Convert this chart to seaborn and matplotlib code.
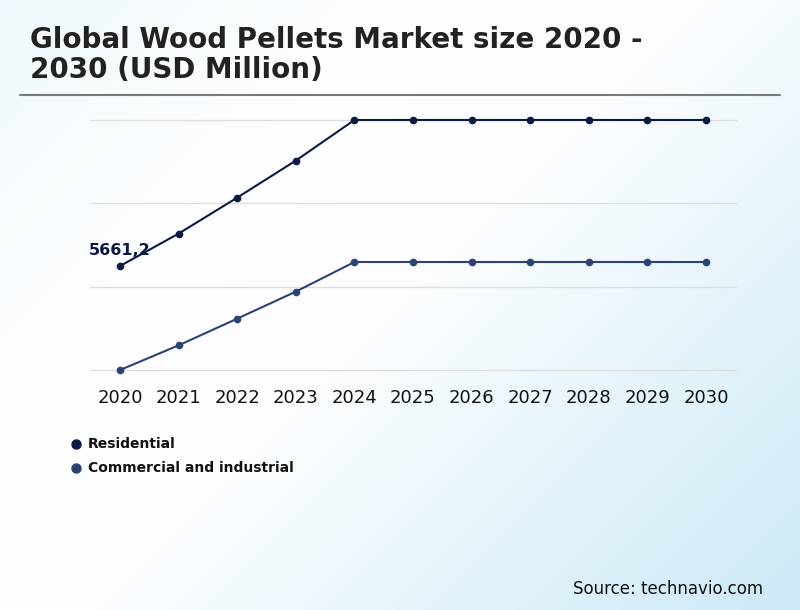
import numpy as np
import pandas as pd
import matplotlib
matplotlib.use("Agg")
import matplotlib.pyplot as plt
import seaborn as sns
from matplotlib.lines import Line2D

# datos (USD Million)
years = [2020, 2021, 2022, 2023, 2024, 2025, 2026, 2027, 2028, 2029, 2030]
residential = [5661.2, 6335.0, 7083.0, 7853.0, 8698.0, 8698.0, 8698.0, 8698.0, 8698.0, 8698.0, 8698.0]
commercial = [3498.0, 4011.0, 4566.0, 5128.0, 5744.0, 5744.0, 5744.0, 5744.0, 5744.0, 5744.0, 5744.0]
series_names = ["Residential", "Commercial and industrial"]
colors = ["#0b1a42", "#2d4274"]

df = pd.DataFrame({
    "idx": list(range(len(years))) * 2,
    "value": residential + commercial,
    "series": [series_names[0]] * len(years) + [series_names[1]] * len(years),
})

sns.set_style("white")
plt.rcParams["font.family"] = ["DejaVu Sans"]

fig = plt.figure(figsize=(8, 6.1), dpi=100)

# fondo degradado (diagonal: celeste claro -> blanco -> celeste)
bg = fig.add_axes([0, 0, 1, 1], zorder=-10)
gx, gy = np.meshgrid(np.linspace(0, 800, 400), np.linspace(0, 610, 300))
t = (gx + gy) / (800 + 610)
stops = [0.0, 0.3, 0.5, 1.0]
cols = np.array([[0.94, 0.975, 0.99], [0.995, 0.998, 1.0],
                 [0.985, 0.993, 0.998], [0.80, 0.915, 0.965]])
img = np.stack([np.interp(t, stops, cols[:, k]) for k in range(3)], axis=-1)
bg.imshow(img, aspect="auto", extent=[0, 1, 0, 1], origin="upper")
bg.axis("off")

ax = fig.add_axes([90 / 800, 1 - 370 / 610, 646 / 800, 250 / 610])
ax.patch.set_alpha(0)

sns.lineplot(data=df, x="idx", y="value", hue="series", palette=colors,
             marker="o", markersize=5.5, markeredgewidth=0, linewidth=1.5,
             legend=False, ax=ax, clip_on=False)

ymin, ymax = min(commercial), max(residential)
ax.set_ylim(ymin, ymax)
ax.set_xlim(-0.512, len(years) - 1 + 0.512)
ax.set_yticks(np.linspace(ymin, ymax, 4))
ax.yaxis.grid(True, color="#dddddd", linewidth=0.9)
ax.set_axisbelow(True)
for gl in ax.get_ygridlines():
    gl.set_clip_on(False)
ax.set_yticklabels([])
ax.tick_params(axis="y", length=0)
ax.set_xticks(range(len(years)))
ax.set_xticklabels([str(y) for y in years], fontsize=13, color="#111111")
ax.tick_params(axis="x", length=0, pad=14)
ax.set_xlabel("")
ax.set_ylabel("")
for s in ax.spines.values():
    s.set_visible(False)
for line in ax.lines:
    line.set_clip_on(False)

# etiqueta primer valor
ax.annotate(f"{residential[0]:.1f}".replace(".", ","), xy=(0, residential[0]),
            xytext=(0, 6), textcoords="offset points", ha="center", va="bottom",
            fontsize=11.5, fontweight="bold", color=colors[0])

# titulo
fig.text(30 / 800, 1 - 40 / 610, "Global Wood Pellets Market size 2020 -",
         fontsize=20.0, fontweight="bold", color="#222222", va="center")
fig.text(30 / 800, 1 - 70 / 610, "2030 (USD Million)",
         fontsize=20.0, fontweight="bold", color="#222222", va="center")
fig.add_artist(Line2D([20 / 800, 780 / 800], [1 - 95 / 610, 1 - 95 / 610],
                      color="#7a7a7a", linewidth=1.5))

# leyenda
for i, name in enumerate(series_names):
    yy = 1 - (444 + 24 * i) / 610
    fig.add_artist(Line2D([76 / 800], [yy], marker="o", markersize=6.5,
                          color=colors[i], linestyle="none"))
    fig.text(88 / 800, yy, name, fontsize=10, fontweight="bold",
             color="#111111", va="center")

fig.text(763 / 800, 1 - 589 / 610, "Source: technavio.com", fontsize=12,
         color="#111111", ha="right", va="center")

fig.savefig("out.png", dpi=100)
